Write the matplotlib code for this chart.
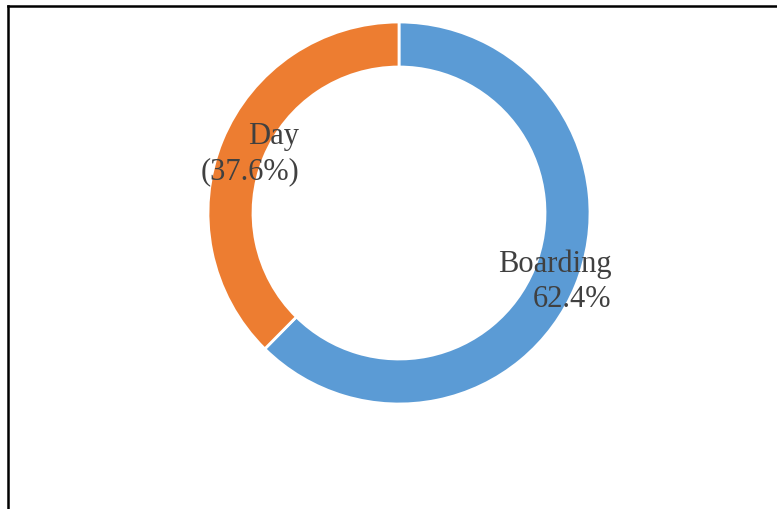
import numpy as np
import matplotlib.pyplot as plt
from matplotlib.lines import Line2D

# data
categories = ['Boarding', 'Day']
shares = [62.4, 37.6]
labels = ['Boarding\n62.4%', 'Day\n(37.6%)']
colors = ['#5B9BD5', '#ED7D31']

W, H = 777, 510
cx, cy, R = 399, 214, 191   # centre and outer radius in pixels

plt.rcParams['font.family'] = ['Liberation Serif', 'DejaVu Serif']

fig = plt.figure(figsize=(W / 100, H / 100), dpi=100)
ax = fig.add_axes([0, 0, 1, 1])

wedges, _ = ax.pie(shares, colors=colors, startangle=90, counterclock=False,
                   radius=1.0,
                   wedgeprops=dict(width=45 / R, edgecolor='white', linewidth=2))

# labels placed at the middle angle of each wedge, nudged a little
nudges = [(0, -4), (6, -4)]
for w, lab, nd in zip(wedges, labels, nudges):
    mid = np.deg2rad((w.theta1 + w.theta2) / 2)
    r = 0.88
    ax.annotate(lab, (r * np.cos(mid), r * np.sin(mid)), xytext=nd,
                textcoords='offset pixels', ha='center', va='center',
                multialignment='right', fontsize=22, color='#404040',
                linespacing=1.3)

ax.set_xlim(-cx / R, (W - cx) / R)
ax.set_ylim(-(H - cy) / R, cy / R)
ax.set_aspect('auto')
ax.axis('off')

# frame lines (left and top only visible)
fig.add_artist(Line2D([8 / W, 8 / W], [0, 1 - 6.5 / H], color='black', lw=1.8,
                      transform=fig.transFigure))
fig.add_artist(Line2D([8 / W, 1], [1 - 6.5 / H, 1 - 6.5 / H], color='black', lw=1.8,
                      transform=fig.transFigure))

fig.savefig('out.png', dpi=100)
